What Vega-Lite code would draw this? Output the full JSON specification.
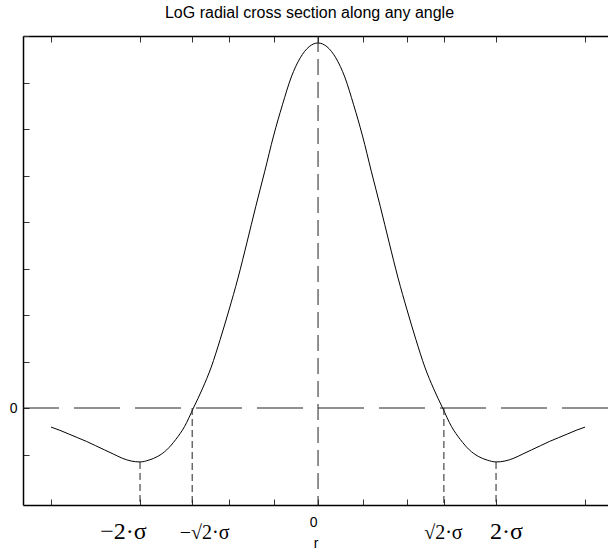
{
  "$schema": "https://vega.github.io/schema/vega-lite/v6.json",
  "autosize": "none",
  "width": 585,
  "height": 469,
  "padding": {"left": 23, "top": 36, "right": 0, "bottom": 45},
  "background": "white",
  "config": {"view": {"stroke": null}, "font": "Liberation Sans"},
  "title": {"text": "LoG radial cross section along any angle", "fontSize": 16, "fontWeight": "normal", "font": "Liberation Sans", "color": "#000", "anchor": "middle", "offset": 8, "dx": -6},
  "datasets": {
    "curve": [
      {"r": -3.0, "v": -0.41}, {"r": -2.9, "v": -0.48}, {"r": -2.8, "v": -0.56}, {"r": -2.7, "v": -0.64}, {"r": -2.6, "v": -0.72},
      {"r": -2.5, "v": -0.81}, {"r": -2.4, "v": -0.90}, {"r": -2.3, "v": -0.99}, {"r": -2.2, "v": -1.08}, {"r": -2.1, "v": -1.14},
      {"r": -2.0, "v": -1.16}, {"r": -1.9, "v": -1.12}, {"r": -1.8, "v": -1.04}, {"r": -1.7, "v": -0.90}, {"r": -1.6, "v": -0.68},
      {"r": -1.5, "v": -0.40}, {"r": -1.4, "v": 0.0}, {"r": -1.3, "v": 0.41}, {"r": -1.2, "v": 0.88}, {"r": -1.1, "v": 1.47},
      {"r": -1.0, "v": 2.11}, {"r": -0.9, "v": 2.79}, {"r": -0.8, "v": 3.55}, {"r": -0.7, "v": 4.33}, {"r": -0.6, "v": 5.08},
      {"r": -0.5, "v": 5.85}, {"r": -0.4, "v": 6.52}, {"r": -0.3, "v": 7.12}, {"r": -0.2, "v": 7.53}, {"r": -0.1, "v": 7.77},
      {"r": 0.0, "v": 7.85},
      {"r": 0.1, "v": 7.77}, {"r": 0.2, "v": 7.53}, {"r": 0.3, "v": 7.12}, {"r": 0.4, "v": 6.52}, {"r": 0.5, "v": 5.85},
      {"r": 0.6, "v": 5.08}, {"r": 0.7, "v": 4.33}, {"r": 0.8, "v": 3.55}, {"r": 0.9, "v": 2.79}, {"r": 1.0, "v": 2.11},
      {"r": 1.1, "v": 1.47}, {"r": 1.2, "v": 0.88}, {"r": 1.3, "v": 0.41}, {"r": 1.4, "v": 0.0}, {"r": 1.5, "v": -0.40},
      {"r": 1.6, "v": -0.68}, {"r": 1.7, "v": -0.90}, {"r": 1.8, "v": -1.04}, {"r": 1.9, "v": -1.12}, {"r": 2.0, "v": -1.16},
      {"r": 2.1, "v": -1.14}, {"r": 2.2, "v": -1.08}, {"r": 2.3, "v": -0.99}, {"r": 2.4, "v": -0.90}, {"r": 2.5, "v": -0.81},
      {"r": 2.6, "v": -0.72}, {"r": 2.7, "v": -0.64}, {"r": 2.8, "v": -0.56}, {"r": 2.9, "v": -0.48}, {"r": 3.0, "v": -0.41}
    ],
    "marks": [
      {"r": -2.0, "v": -1.16},
      {"r": -1.4142, "v": 0},
      {"r": 1.4142, "v": 0},
      {"r": 2.0, "v": -1.16}
    ],
    "one": [{"k": 0}]
  },
  "resolve": {"axis": {"x": "independent", "y": "independent"}},
  "layer": [
    {
      "data": {"name": "curve"},
      "mark": {"type": "line", "color": "#000", "strokeWidth": 1, "interpolate": "monotone"},
      "encoding": {
        "x": {
          "field": "r", "type": "quantitative",
          "scale": {"domain": [-3.315, 3.258], "nice": false, "zero": false},
          "axis": {
            "orient": "bottom",
            "values": [-3, -2, -1.4142, -1, -0.5, 0, 0.5, 1, 1.4142, 2, 3],
            "labelExpr": "datum.value == 0 ? '0' : datum.value == -2 ? '−2·σ' : datum.value == 2 ? '2·σ' : (datum.value < -1.4 && datum.value > -1.5) ? '−√2·σ' : (datum.value > 1.4 && datum.value < 1.5) ? '√2·σ' : ''",
            "title": "r",
            "titleFont": "Liberation Sans",
            "titleFontWeight": "normal",
            "titleFontSize": 14,
            "titleColor": "#000",
            "titleY": 42,
            "titleBaseline": "alphabetic",
            "grid": false,
            "tickSize": -6,
            "tickColor": "#333",
            "domainColor": "#000",
            "domainWidth": 1.5,
            "labelColor": "#000",
            "labelFont": {"condition": {"test": "datum.value == 0", "value": "Liberation Sans"}, "value": "Liberation Serif"},
            "labelFontSize": {"condition": [{"test": "datum.value == 0", "value": 14}, {"test": "abs(datum.value) == 2", "value": 24}], "value": 20},
            "labelBaseline": "alphabetic",
            "labelPadding": {"condition": {"test": "datum.value == 0", "value": 27}, "value": 39},
            "labelOffset": {"condition": [{"test": "datum.value == -2", "value": -17}, {"test": "datum.value < -1.4 && datum.value > -1.5", "value": 12}, {"test": "datum.value == 2", "value": 10}, {"test": "datum.value == 0", "value": -5}], "value": -1},
            "labelFlush": false,
            "labelOverlap": false,
            "labelBound": false
          }
        },
        "y": {
          "field": "v", "type": "quantitative",
          "scale": {"domain": [-2.086, 8], "nice": false, "zero": false},
          "axis": {
            "orient": "left",
            "values": [-1, 0, 1, 2, 3, 4, 5, 6, 7, 8],
            "labelExpr": "datum.value == 0 ? '0' : ''",
            "title": null,
            "grid": false,
            "tickSize": -6,
            "tickColor": "#333",
            "domainColor": "#000",
            "domainWidth": 1.5,
            "labelColor": "#000",
            "labelFont": "Liberation Sans",
            "labelFontSize": 14,
            "labelPadding": 12,
            "labelFlush": false,
            "labelOverlap": false,
            "labelBound": false
          }
        }
      }
    },
    {
      "data": {"name": "marks"},
      "mark": {"type": "rule", "color": "#222", "strokeWidth": 1, "strokeDash": [7, 4]},
      "encoding": {
        "x": {
          "field": "r", "type": "quantitative",
          "scale": {"domain": [-3.315, 3.258], "nice": false, "zero": false},
          "axis": {
            "orient": "top",
            "values": [-3, -2, -1.4142, -1, -0.5, 0, 0.5, 1, 1.4142, 2, 3],
            "labels": false,
            "title": null,
            "grid": false,
            "tickSize": -6,
            "tickColor": "#333",
            "domainColor": "#000",
            "domainWidth": 1.5
          }
        },
        "y": {"field": "v", "type": "quantitative", "axis": null},
        "y2": {"datum": -2.086}
      }
    },
    {
      "data": {"name": "one"},
      "mark": {"type": "rule", "color": "#222", "strokeWidth": 1, "strokeDash": [16, 7]},
      "encoding": {"x": {"datum": 0, "axis": null}}
    },
    {
      "data": {"name": "one"},
      "mark": {"type": "rule", "color": "#222", "strokeWidth": 1, "strokeDash": [46, 15]},
      "encoding": {"y": {"datum": 0, "axis": null}}
    }
  ]
}
